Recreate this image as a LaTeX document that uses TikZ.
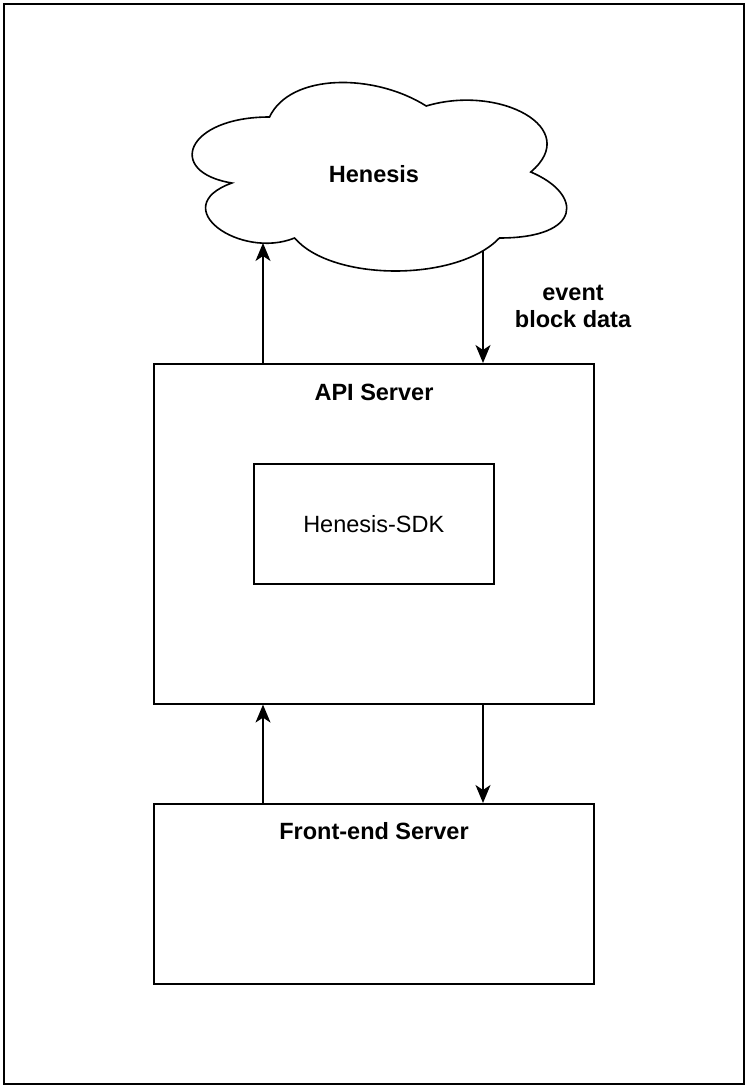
\documentclass[tikz,border=0pt]{standalone}
\usepackage{fontspec}
\setmainfont{Liberation Sans}
\usetikzlibrary{arrows.meta,calc}
\tikzset{
  box/.style={draw=black, line width=1.6pt, fill=white, rectangle, inner sep=0pt},
  ttl/.style={font=\fontsize{23.5}{27}\selectfont\bfseries, inner sep=0pt},
  txt/.style={font=\fontsize{23.5}{27}\selectfont, inner sep=0pt},
  arr/.style={line width=1.6pt, -{Stealth[length=18pt,width=15pt,inset=5pt]}},
}
\begin{document}
\begin{tikzpicture}[x=1pt,y=-1pt]
\useasboundingbox (0,0) rectangle (746,1086);
% outer frame
\node[box, minimum width=740pt, minimum height=1080pt, anchor=north west] (frame) at (3,3) {};
% cloud (Henesis)
\def\cx{165}\def\cy{62}\def\cw{418}\def\ch{220}
\draw[line width=1.6pt, fill=white]
  ({\cx+0.25*\cw},{\cy+0.25*\ch})
  .. controls ({\cx+0.05*\cw},{\cy+0.25*\ch}) and ({\cx},{\cy+0.5*\ch}) .. ({\cx+0.16*\cw},{\cy+0.55*\ch})
  .. controls ({\cx},{\cy+0.66*\ch}) and ({\cx+0.18*\cw},{\cy+0.9*\ch}) .. ({\cx+0.31*\cw},{\cy+0.8*\ch})
  .. controls ({\cx+0.4*\cw},{\cy+\ch}) and ({\cx+0.7*\cw},{\cy+\ch}) .. ({\cx+0.8*\cw},{\cy+0.8*\ch})
  .. controls ({\cx+\cw},{\cy+0.8*\ch}) and ({\cx+\cw},{\cy+0.6*\ch}) .. ({\cx+0.875*\cw},{\cy+0.5*\ch})
  .. controls ({\cx+\cw},{\cy+0.3*\ch}) and ({\cx+0.8*\cw},{\cy+0.1*\ch}) .. ({\cx+0.625*\cw},{\cy+0.2*\ch})
  .. controls ({\cx+0.5*\cw},{\cy+0.05*\ch}) and ({\cx+0.3*\cw},{\cy+0.05*\ch}) .. cycle;
\node[ttl] (henesis) at (374,174) {Henesis};
\coordinate (cloudL) at (263,243);
\coordinate (cloudR) at (483,251);
% boxes
\node[box, minimum width=440pt, minimum height=340pt, anchor=north west] (api) at (153,363) {};
\node[ttl, anchor=base] (apiT) at (374,400) {API Server};
\node[box, minimum width=240pt, minimum height=120pt, anchor=north west] (sdk) at (253,463) {};
\node[txt] (sdkT) at (sdk.center) {Henesis-SDK};
\node[box, minimum width=440pt, minimum height=180pt, anchor=north west] (fe) at (153,803) {};
\node[ttl, anchor=base] (feT) at (374,839) {Front-end Server};
% label
\node[ttl, align=center] (lbl) at (573,306) {event\\block data};
% connectors
\draw[arr] (api.north -| cloudL) -- (cloudL);
\draw[arr] (cloudR) -- (api.north -| cloudR);
\draw[arr] (fe.north -| cloudL) -- (api.south -| cloudL);
\draw[arr] (api.south -| cloudR) -- (fe.north -| cloudR);
\end{tikzpicture}
\end{document}
